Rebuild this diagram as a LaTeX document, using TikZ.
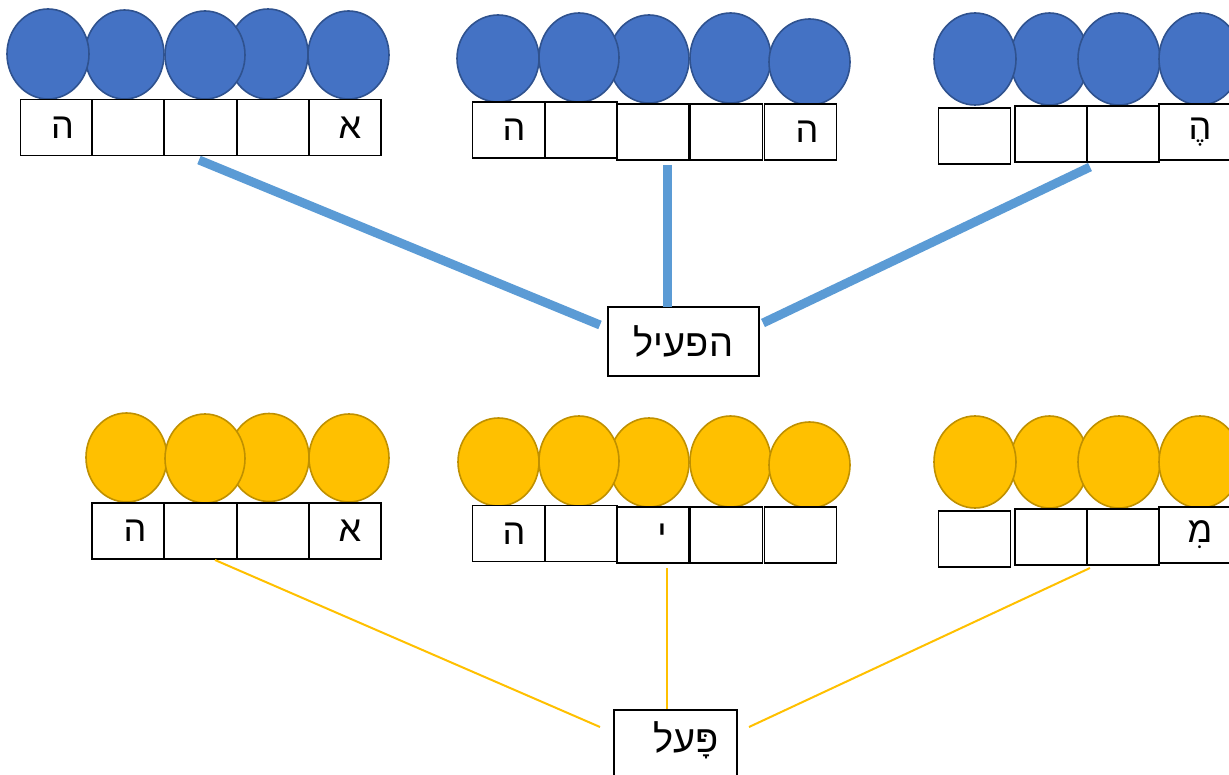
\documentclass[tikz,border=0pt]{standalone}
\usepackage{fontspec}
\usetikzlibrary{shapes.geometric}
\newfontfamily\heb[Script=Hebrew]{Liberation Sans}
\TeXXeTstate=1
\definecolor{cblue}{HTML}{4472C4}
\definecolor{cbluedark}{HTML}{2F528F}
\definecolor{lineblue}{HTML}{5B9BD5}
\definecolor{corange}{HTML}{FFC000}
\definecolor{corangedark}{HTML}{BF9000}
\begin{document}
\begin{tikzpicture}[x=1pt,y=-1pt,
  ball/.style={ellipse, line width=1.6pt, inner sep=0pt, minimum width=80, minimum height=89},
  bball/.style={ball, draw=cbluedark, fill=cblue},
  oball/.style={ball, draw=corangedark, fill=corange},
  cell/.style={draw=black, line width=1.6pt, fill=white, minimum width=72, minimum height=56, inner sep=0pt, font=\heb\fontsize{36}{40}\selectfont},
  lbl/.style={draw=black, line width=1.6pt, fill=white, inner sep=0pt, font=\heb\fontsize{38}{42}\selectfont},
  bline/.style={draw=lineblue, line width=9pt},
  oline/.style={draw=corange, line width=2pt}]
\useasboundingbox (0,0) rectangle (1229,775);
% ---- top-left (blue)
\node[bball, minimum width=79] (tlc2) at (124.5,54.5) {};
\node[bball, minimum width=82, minimum height=90] (tlc1) at (48,54) {};
\node[bball, minimum height=90] (tlc4) at (268,54) {};
\node[bball, minimum height=88] (tlc3) at (205,55) {};
\node[bball, minimum width=81, minimum height=88] (tlc5) at (348.5,55) {};
\node[cell] (tlb1) at (56.5,127.5) {\hspace{12pt}ה};
\node[cell] (tlb2) at (128,127.5) {};
\node[cell] (tlb3) at (200.5,127.5) {};
\node[cell] (tlb4) at (273,127.5) {};
\node[cell] (tlb5) at (345,127.5) {\hspace{10pt}א};
% ---- top-middle (blue)
\node[bball, minimum height=88] (tmc3) at (649,59) {};
\node[bball, minimum width=82, minimum height=87] (tmc1) at (498,58.5) {};
\node[bball] (tmc2) at (579,57.5) {};
\node[bball, minimum width=81, minimum height=90] (tmc4) at (730.5,58) {};
\node[bball, minimum width=81, minimum height=86] (tmc5) at (809.5,62) {};
\node[cell] (tmb1) at (508.5,130) {\hspace{11pt}ה};
\node[cell] (tmb2) at (581,130) {};
\node[cell] (tmb3) at (653,132) {};
\node[cell] (tmb4) at (726.5,132) {};
\node[cell] (tmb5) at (800.5,132) {\hspace{13pt}ה};
% ---- top-right (blue)
\node[bball, minimum width=78, minimum height=92] (trc2) at (1049.5,59) {};
\node[bball, minimum width=82, minimum height=92] (trc1) at (975,59) {};
\node[bball, minimum width=82, minimum height=92] (trc3) at (1119,59) {};
\node[bball, minimum width=82, minimum height=92] (trc4) at (1200,59) {};
\node[cell] (trb1) at (974.5,136) {};
\node[cell] (trb2) at (1051,134) {};
\node[cell] (trb3) at (1123,134) {};
\node[cell] (trb4) at (1195,132) {\hspace{10pt}הֶ};
% ---- label hif'il
\node[lbl, minimum width=151, minimum height=69] (hif) at (683.5,341.5) {\beginR הפעיל\endR};
% ---- blue connectors
\coordinate (bl1s) at (199,160);
\coordinate (bl1e) at (600,325);
\coordinate (bl2s) at (667,165);
\coordinate (bl2e) at (667,307);
\coordinate (bl3s) at (1090,167);
\coordinate (bl3e) at (763,323);
\draw[bline] (bl1s) -- (bl1e);
\draw[bline] (bl2s) -- (bl2e);
\draw[bline] (bl3s) -- (bl3e);
% ---- bottom-left (orange)
\node[oball, minimum width=81] (blc1) at (126.5,457.5) {};
\node[oball, minimum height=88] (blc3) at (269,457.5) {};
\node[oball] (blc2) at (205,458.5) {};
\node[oball, minimum height=88] (blc4) at (349,458) {};
\node[cell] (blb1) at (128,531) {\hspace{14pt}ה};
\node[cell] (blb2) at (200.5,531) {};
\node[cell] (blb3) at (273,531) {};
\node[cell] (blb4) at (345,531) {\hspace{10pt}א};
% ---- bottom-middle (orange)
\node[oball, minimum height=89] (bmc3) at (649,462.5) {};
\node[oball, minimum width=81, minimum height=88] (bmc1) at (498.5,462) {};
\node[oball, minimum height=90] (bmc2) at (579,461) {};
\node[oball, minimum width=81, minimum height=91] (bmc4) at (730.5,461.5) {};
\node[oball, minimum width=81, minimum height=86] (bmc5) at (809.5,465) {};
\node[cell] (bmb1) at (508.5,533.5) {\hspace{11pt}ה};
\node[cell] (bmb2) at (581,533.5) {};
\node[cell] (bmb3) at (653,535) {\hspace{18pt}י};
\node[cell] (bmb4) at (726.5,535) {};
\node[cell] (bmb5) at (800.5,535) {};
% ---- bottom-right (orange)
\node[oball, minimum width=78, minimum height=92] (brc2) at (1049.5,462) {};
\node[oball, minimum width=82, minimum height=92] (brc1) at (975,462) {};
\node[oball, minimum width=82, minimum height=92] (brc3) at (1119,462) {};
\node[oball, minimum width=82, minimum height=92] (brc4) at (1200,462) {};
\node[cell] (brb1) at (974.5,539) {};
\node[cell] (brb2) at (1051,537) {};
\node[cell] (brb3) at (1123,537) {};
\node[cell] (brb4) at (1195,535) {\hspace{10pt}מִ};
% ---- label pa'al (box runs past the lower edge)
\node[lbl, minimum width=123, minimum height=90, text height=20pt, text depth=24pt, anchor=north] (pal) at (675.5,709) {\hspace{21pt}\beginR פָּעל\endR};
% ---- orange connectors
\coordinate (ol1s) at (215,560);
\coordinate (ol1e) at (600,727);
\coordinate (ol2s) at (667,568);
\coordinate (ol3s) at (1090,568);
\coordinate (ol3e) at (749,727);
\draw[oline] (ol1s) -- (ol1e);
\draw[oline] (ol2s) -- (ol2s |- pal.north);
\draw[oline] (ol3s) -- (ol3e);
\end{tikzpicture}
\end{document}
